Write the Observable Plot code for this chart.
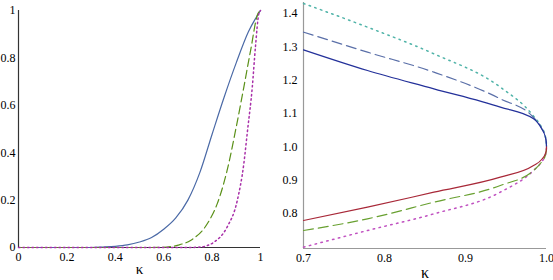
<!DOCTYPE html>
<html><head><meta charset="utf-8">
<script src="https://cdn.jsdelivr.net/npm/d3@7"></script>
<script src="https://cdn.jsdelivr.net/npm/@observablehq/plot@0.6"></script>
<style>
html,body{margin:0;padding:0;background:#fff;}
#wrap{display:flex;width:553px;height:280px;overflow:hidden;}
svg{display:block}
#wrap svg, #wrap svg text{font-family:"Liberation Serif",serif !important;}
</style></head><body><div id="wrap"></div>
<script>
// tick labels
const leftTicks = [0, 0.2, 0.4, 0.6, 0.8, 1];
const rightXTicks = [0.7, 0.8, 0.9, 1.0];
const rightYTicks = [0.8, 0.9, 1.0, 1.1, 1.2, 1.3, 1.4];

// left panel series [kappa, value]
const leftSolid = [[0,0],[0.3,0],[0.35,0.002],[0.4,0.005],[0.45,0.011],[0.5,0.023],[0.55,0.042],[0.6,0.077],[0.65,0.125],[0.7,0.2],[0.75,0.318],[0.8,0.478],[0.85,0.635],[0.9,0.78],[0.95,0.91],[1,1]];
const leftDashed = [[0,0],[0.55,0],[0.614,0.002],[0.66,0.01],[0.711,0.030],[0.78,0.100],[0.821,0.184],[0.862,0.325],[0.9,0.51],[0.931,0.676],[0.959,0.831],[0.989,0.986],[1,1]];
const leftDotted = [[0,0],[0.7,0],[0.752,0.002],[0.78,0.008],[0.807,0.022],[0.862,0.086],[0.904,0.198],[0.931,0.353],[0.946,0.49],[0.966,0.676],[0.979,0.845],[0.993,0.986],[1,1]];

// right panel series [kappa, value]
const upperSolid = [[0.7,1.291],[0.779,1.229],[0.861,1.174],[0.943,1.119],[0.984,1.084],[0.994,1.054],[0.9985,1.03],[0.9998,1.012],[1,1]];
const upperDashed = [[0.7,1.344],[0.779,1.284],[0.861,1.224],[0.943,1.144],[0.984,1.088],[0.994,1.056],[0.9985,1.031],[0.9998,1.012],[1,1]];
const upperDotted = [[0.7,1.43],[0.779,1.359],[0.861,1.279],[0.943,1.179],[0.984,1.092],[0.994,1.058],[0.9985,1.032],[0.9998,1.012],[1,1]];
const lowerSolid = [[0.7,0.779],[0.779,0.819],[0.861,0.864],[0.943,0.909],[0.984,0.944],[0.994,0.962],[0.9985,0.979],[0.9998,0.99],[1,1]];
const lowerDashed = [[0.7,0.749],[0.779,0.784],[0.861,0.834],[0.943,0.884],[0.984,0.929],[0.994,0.955],[0.9985,0.974],[0.9998,0.989],[1,1]];
const lowerDotted = [[0.7,0.699],[0.779,0.749],[0.861,0.799],[0.943,0.864],[0.984,0.929],[0.994,0.955],[0.9985,0.974],[0.9998,0.989],[1,1]];

const font = "Liberation Serif";
const ln = (data, stroke, dash, w = 1.2) => Plot.line(data, {x: d => d[0], y: d => d[1], stroke, strokeWidth: w, strokeDasharray: dash, curve: "monotone-x"});

const left = Plot.plot({
  width: 276, height: 280,
  marginLeft: 18, marginRight: 16, marginTop: 10, marginBottom: 33,
  style: {fontFamily: font, fontSize: "12px", color: "#000", background: "#fff"},
  x: {domain: [0, 1], ticks: leftTicks, tickFormat: d => String(d), tickSize: 0, tickPadding: 5, label: null},
  y: {domain: [0, 1], ticks: leftTicks, tickFormat: d => String(d), tickSize: 0, tickPadding: 3, label: null},
  marks: [
    Plot.ruleX([0], {stroke: "#333", strokeWidth: 1.2}),
    Plot.ruleY([0], {stroke: "#333", strokeWidth: 1.2}),
    ln(leftSolid, "#4a69a6", null),
    ln(leftDashed, "#5a9018", "8,4"),
    ln(leftDotted, "#a82fa8", "1.5,3", 1.5),
    Plot.text(["κ"], {frameAnchor: "bottom", dy: 26, fontSize: 15, fill: "#000"})
  ]
});

const right = Plot.plot({
  width: 277, height: 280,
  marginLeft: 27, marginRight: 7, marginTop: 2, marginBottom: 32,
  style: {fontFamily: font, fontSize: "12px", color: "#000", background: "#fff"},
  x: {domain: [0.7, 1.0], ticks: rightXTicks, tickFormat: d => d.toFixed(1), tickSize: 0, tickPadding: 5, label: null},
  y: {domain: [0.695, 1.433], ticks: rightYTicks, tickFormat: d => d.toFixed(1), tickSize: 0, tickPadding: 6, label: null},
  marks: [
    Plot.ruleX([0.7], {stroke: "#999", strokeWidth: 1.2}),
    Plot.ruleY([0.695], {stroke: "#999", strokeWidth: 1.2}),
    ln(upperDotted, "#4fb3a8", "1.5,4.5", 1.5),
    ln(upperDashed, "#5a6fa8", "10,5"),
    ln(upperSolid, "#23309a", null),
    ln(lowerDotted, "#c050c0", "1.5,4.5", 1.5),
    ln(lowerDashed, "#68a030", "10,5"),
    ln(lowerSolid, "#a82838", null),
    Plot.text(["κ"], {frameAnchor: "bottom", dy: 29, fontSize: 16, fill: "#000"})
  ]
});

document.getElementById("wrap").append(left, right);
</script>
</body></html>
